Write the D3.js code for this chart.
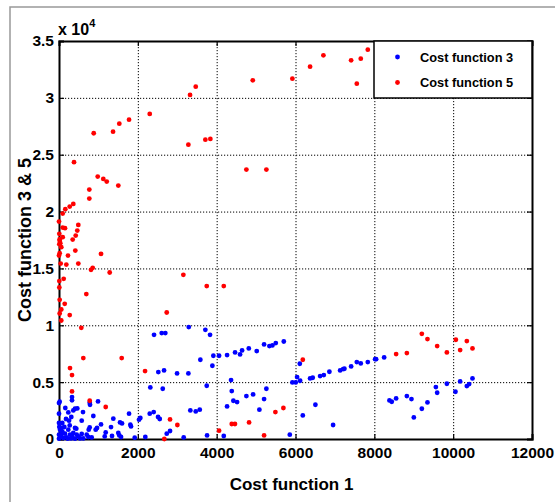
<!DOCTYPE html>
<html><head><meta charset="utf-8">
<script src="https://cdn.jsdelivr.net/npm/d3@7"></script>
<style>
body{margin:0;background:#fff;}
text{font-family:Arial,"Liberation Sans",Helvetica,sans-serif;font-weight:bold;fill:#000;}
</style></head>
<body><svg id="c" width="555" height="502"></svg>
<script>
const xTicks=[0,2000,4000,6000,8000,10000,12000];
const yTicks=[0,5000,10000,15000,20000,25000,30000,35000];
const seriesNames=["Cost function 3","Cost function 5"];
const seriesColors=["#0000ff","#ff0000"];
const cf3X=[8020,8045,8249,8383,8442,8553,8825,8942,9002,9205,9348,9561,9594,9840,10058,10177,10347,10406,10490,
3292,3713,3832,5703,5500,5414,5338,5203,5017,4815,4645,4594,4467,4264,4061,3916,3891,3586,3282,3748,4365,4383,4424,5261,5203,4924,4754,4264,5084,3332,3469,3571,3164,3756,4180,5855,
5921,6006,6040,6117,6109,6185,6370,6437,6624,6718,6860,6505,6954,7132,7208,7241,7411,7555,7656,7834,
2411,2606,2698,2520,2665,2995,2317,2632,2302,2403,2513,2556,2733,2817,2190,4518,
0,17,0,160,330,330,236,312,363,406,464,609,779,787,990,871,576,254,84,178,272,8,58,406,439,779,754,931,965,1066,1185,1160,1378,1548,1599,1777,1810,1827,1345,1505,1530,1574,1921,2030,2064,1320,
25,84,0,51,109,195,279,338,406,490,533,617,703,744,829,68,152,236,363,449,576,0,135,0,220,305];
const cf3Y=[7018,7018,7170,3392,3277,3568,3778,3515,1898,2662,3216,4569,4068,4859,4156,5061,4657,4833,5325,
9841,9604,9165,8576,8436,8225,8172,8313,7733,7961,7785,7434,7610,7381,7320,7320,6441,6968,5764,4684,5184,4218,3365,4420,3515,3919,3778,2865,2575,2513,2425,2575,141,316,264,378,
4974,4974,5448,5123,6617,2074,5325,5386,5536,5624,5914,3014,1230,6028,6151,6177,6379,6766,6643,6766,
9165,9314,9314,5887,6028,5764,4534,4420,2223,2372,1933,1757,466,703,176,3251,
3163,3277,2223,2724,3690,3400,2337,1933,2513,2662,2689,2372,3190,3014,3304,2021,1608,1608,1406,1757,1195,1054,967,967,905,1019,817,817,967,1283,580,228,1784,1459,1371,2223,1257,1107,264,527,316,176,114,1696,1845,1050,
817,668,378,228,88,141,378,176,26,228,53,53,378,176,141,527,466,817,527,378,439,1406,1054,26,26,53];
const cf5X=[5921,6370,6708,7411,7656,7834,7555,3325,3469,4916,3282,3713,3840,4754,5261,2302,1777,1530,1371,881,381,982,1124,1211,1505,769,769,363,272,160,94,0,490,94,152,464,8,94,424,17,33,58,347,17,8,414,17,0,228,1066,43,186,490,855,812,1286,3155,8,119,8,693,17,145,58,17,272,58,566,2733,3748,4180,617,1591,279,330,330,779,1185,2183,2817,3003,2672,6185,4061,4383,4464,4822,5203,5490,5693,8553,8825,9205,9348,9594,9840,10068,10177,10347,10490];
const cf5Y=[31686,32741,33742,33303,33443,34235,31247,30254,30983,31545,25887,26326,26387,23690,23690,28584,28084,27733,27029,26888,24340,23075,22872,22635,22284,21932,21142,20676,20438,20210,19823,19120,18830,18593,18540,18330,18040,17750,17890,17574,17222,16871,17540,17424,17134,16572,16344,16133,16133,16283,15430,15342,15430,15052,14876,14640,14437,13884,14086,13321,12741,12240,11889,11388,11036,10896,10422,9780,11125,13444,13444,7117,7117,6239,5624,4183,3365,2812,5975,1722,1230,0,6968,729,1318,1318,1459,316,2372,2724,7469,7557,9253,8787,8172,7610,8726,7820,8611,7961];

const svg=d3.select("#c");
const L=59,R=532,T=41,B=439;
const x=d3.scaleLinear().domain([0,12000]).range([L,R]);
const y=d3.scaleLinear().domain([0,35000]).range([B,T]);

// outer figure border
svg.append("rect").attr("x",10).attr("y",7).attr("width",700).attr("height",700)
  .attr("fill","none").attr("stroke","#999").attr("stroke-width",1.5);

// grid
const grid=svg.append("g").attr("stroke","#000").attr("stroke-width",1).attr("stroke-dasharray","1.2,1.8");
grid.selectAll(".gx").data(xTicks.slice(1,-1)).enter().append("line")
  .attr("x1",d=>x(d)+0.5).attr("x2",d=>x(d)+0.5).attr("y1",T).attr("y2",B);
grid.selectAll(".gy").data(yTicks.slice(1,-1)).enter().append("line")
  .attr("y1",d=>y(d)+0.5).attr("y2",d=>y(d)+0.5).attr("x1",L).attr("x2",R);

// axes
const fmtY=d=>d3.format("~g")(d/10000);
const ax=svg.append("g").attr("transform",`translate(0,${B})`)
  .call(d3.axisBottom(x).tickValues(xTicks).tickSize(-5).tickPadding(8).tickFormat(d3.format("d")));
const ay=svg.append("g").attr("transform",`translate(${L},0)`)
  .call(d3.axisLeft(y).tickValues(yTicks).tickSize(-5).tickPadding(5).tickFormat(fmtY));
const axt=svg.append("g").attr("transform",`translate(0,${T})`)
  .call(d3.axisTop(x).tickValues(xTicks).tickSize(-5).tickFormat(""));
const ayr=svg.append("g").attr("transform",`translate(${R},0)`)
  .call(d3.axisRight(y).tickValues(yTicks).tickSize(-5).tickFormat(""));
[ax,ay,axt,ayr].forEach(g=>{
  g.select(".domain").attr("stroke","#000").attr("stroke-width",2);
  g.selectAll(".tick line").attr("stroke","#000").attr("stroke-width",1.2);
  g.selectAll("text").attr("font-size",15.5).attr("font-family","Arial, 'Liberation Sans', sans-serif").attr("font-weight","bold").attr("fill","#000");
});

// points
const pts=svg.append("g");
const s3=cf3X.map((v,i)=>[v,cf3Y[i]]);
const s5=cf5X.map((v,i)=>[v,cf5Y[i]]);
pts.selectAll(".b").data(s3).enter().append("circle")
  .attr("cx",d=>x(d[0])).attr("cy",d=>y(d[1])).attr("r",2.4).attr("fill",seriesColors[0]);
pts.selectAll(".r").data(s5).enter().append("circle")
  .attr("cx",d=>x(d[0])).attr("cy",d=>y(d[1])).attr("r",2.4).attr("fill",seriesColors[1]);

// exponent label
const ex=svg.append("text").attr("x",L-1).attr("y",35).attr("font-size",16);
ex.append("tspan").text("x 10");
ex.append("tspan").attr("font-size",11).attr("dy",-8).text("4");

// legend
const lg=svg.append("g");
lg.append("rect").attr("x",374).attr("y",T).attr("width",R-374).attr("height",57)
  .attr("fill","#fff").attr("stroke","#000").attr("stroke-width",1.5);
seriesNames.forEach((n,i)=>{
  const cy=57+i*25.5;
  lg.append("circle").attr("cx",397.5).attr("cy",cy).attr("r",2.4).attr("fill",seriesColors[i]);
  lg.append("text").attr("x",420).attr("y",cy+4.5).attr("font-size",12.8).text(n);
});

// axis labels
svg.append("text").attr("x",(L+R)/2-4).attr("y",490).attr("text-anchor","middle").attr("font-size",17).text("Cost function 1");
svg.append("text").attr("transform",`translate(31,${(T+B)/2}) rotate(-90)`).attr("text-anchor","middle").attr("font-size",18).text("Cost function 3 & 5");
</script></body></html>
